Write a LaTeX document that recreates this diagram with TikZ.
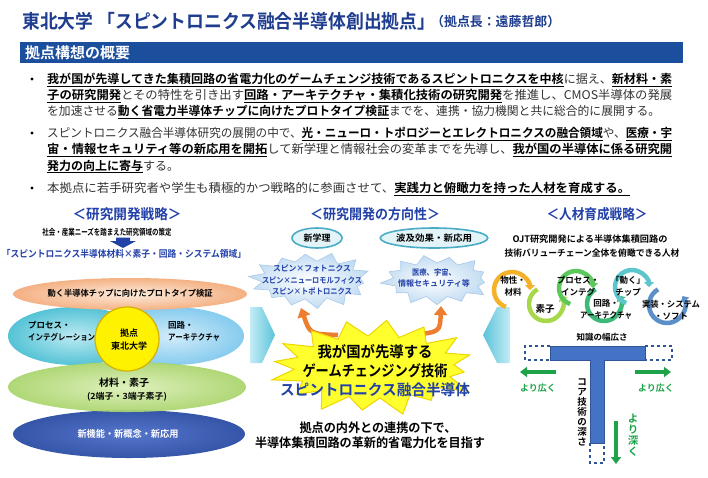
\documentclass[tikz,border=0pt]{standalone}
\usepackage{fontspec}
\setmainfont{Noto Sans CJK JP}[BoldFont={Noto Sans CJK JP Bold}]
\usepackage{graphicx}
\usetikzlibrary{arrows.meta,shapes.geometric}
\newcommand\fitw[2]{\resizebox{#1}{\height}{#2}}
\newcommand\ub[1]{{\color{black}\underline{\textbf{#1}}}}
\definecolor{ttl}{HTML}{1F3D8F}
\definecolor{barblue}{HTML}{1C4E9E}
\definecolor{hblue}{HTML}{2140A8}
\definecolor{txt}{HTML}{333333}
\definecolor{tblue}{HTML}{4472C4}
\definecolor{tdark}{HTML}{2F5597}
\definecolor{grn}{HTML}{1EA34A}
\definecolor{orng}{HTML}{ED7D31}
\definecolor{tealb}{HTML}{4BACC6}
\definecolor{tealf}{HTML}{E2F4F8}
\definecolor{peachi}{HTML}{FDEBDD}
\definecolor{peacho}{HTML}{F4B183}
\definecolor{cyani}{HTML}{BDEAF2}
\definecolor{cyano}{HTML}{55C3D6}
\definecolor{skyi}{HTML}{D2ECFA}
\definecolor{skyo}{HTML}{86CBEE}
\definecolor{grni}{HTML}{DDF0B8}
\definecolor{grno}{HTML}{A9D46B}
\definecolor{bli}{HTML}{5676CC}
\definecolor{blo}{HTML}{3455A8}
\definecolor{ylw}{HTML}{FFF200}
\definecolor{ylwd}{HTML}{D4B000}
\definecolor{starf}{HTML}{FFFF2E}
\definecolor{stard}{HTML}{F0D400}
\definecolor{cloudo}{HTML}{C2DCF2}
\definecolor{cloudd}{HTML}{A9C9E8}
\definecolor{chevi}{HTML}{C4ECF5}
\definecolor{chevo}{HTML}{5BC3DA}
\definecolor{rA}{HTML}{F5B12A}
\definecolor{rB}{HTML}{A6D84A}
\definecolor{rC}{HTML}{5CC85C}
\definecolor{rD}{HTML}{3CB878}
\definecolor{rE}{HTML}{5CC6CC}
\definecolor{rF}{HTML}{5B8FC8}
\newcommand\burstpath[8]{plot[variable=\k, samples at={0,...,#7}] ({#1+ifthenelse(mod(\k,2)==0,#3*(0.84+0.16*abs(sin(\k*#8))),#5)*cos(\k*360/(#7+1)+7)}, {#2+ifthenelse(mod(\k,2)==0,#4*(0.84+0.16*abs(sin(\k*#8))),#6)*sin(\k*360/(#7+1)+7)}) -- cycle}
\tikzset{
  bl/.style={anchor=base west, font=\fontsize{12}{12}\selectfont, text=txt},
  hd/.style={font=\fontsize{14}{14}\selectfont\bfseries, text=hblue},
  sm/.style={font=\fontsize{#1}{#1}\selectfont\bfseries, text=black},
  ml/.style={align=center, font=\fontsize{8.5}{12}\selectfont\bfseries, text=black},
  ringarc/.style={line width=4.5pt, draw=#1, -{Triangle[length=5pt,width=10pt]}},
  oarrow/.style={line width=4.5pt, draw=orng, -{Triangle[length=9pt,width=13pt]}},
  garrow/.style={line width=3.5pt, draw=grn, -{Triangle[length=7pt,width=10pt]}},
  tdash/.style={dashed, draw=tdark, line width=1.2pt},
  oval/.style={ellipse, draw=tealb, line width=1.6pt, fill=tealf, font=\fontsize{9}{9}\selectfont\bfseries, text=black},
}
\begin{document}
\begin{tikzpicture}[x=1pt,y=-1pt, every node/.style={inner sep=0pt}]
\useasboundingbox (0,0) rectangle (708,477);
\fill[white] (0,0) rectangle (708,477);

% ---------- title ----------
\node[anchor=west, text=ttl, font=\fontsize{19}{19}\selectfont\bfseries] (title) at (22,21) {\fitw{413pt}{東北大学\ 「スピントロニクス融合半導体創出拠点」}};
\node[anchor=west, text=ttl, font=\fontsize{13}{13}\selectfont\bfseries] (chief) at (431,22) {\fitw{129pt}{（拠点長：遠藤哲郎）}};
\fill[barblue] (20,42) rectangle (683,63);
\node[anchor=west, text=white, font=\fontsize{15}{15}\selectfont\bfseries] (bartxt) at (25,52.5) {拠点構想の概要};

% ---------- bullets ----------
\fill[black] (32,79) circle (1.7) (32,133) circle (1.7) (32,188) circle (1.7);
\node[bl] (l1) at (47,83.5) {\fitw{625pt}{\ub{我が国が先導してきた集積回路の省電力化のゲームチェンジ技術であるスピントロニクスを中核}に据え、\ub{新材料・素}}};
\node[bl] (l2) at (47,99.5) {\fitw{625pt}{\ub{子の研究開発}とその特性を引き出す\ub{回路・アーキテクチャ・集積化技術の研究開発}を推進し、CMOS半導体の発展}};
\node[bl] (l3) at (47,115.5) {\fitw{613pt}{を加速させる\ub{動く省電力半導体チップに向けたプロトタイプ検証}までを、連携・協力機関と共に総合的に展開する。}};
\node[bl] (l4) at (47,137.5) {\fitw{625pt}{スピントロニクス融合半導体研究の展開の中で、\ub{光・ニューロ・トポロジーとエレクトロニクスの融合領域}や、\ub{医療・宇}}};
\node[bl] (l5) at (47,153.5) {\fitw{625pt}{\ub{宙・情報セキュリティ等の新応用を開拓}して新学理と情報社会の変革までを先導し、\ub{我が国の半導体に係る研究開}}};
\node[bl] (l6) at (47,170) {\ub{発力の向上に寄与}する。};
\node[bl] (l7) at (47,192.5) {\fitw{583pt}{本拠点に若手研究者や学生も積極的かつ戦略的に参画させて、\ub{実践力と俯瞰力を持った人材を育成する。}}};

% ---------- left column ----------
\node[hd] (lh) at (127,214) {\fitw{109pt}{＜研究開発戦略＞}};
\node[sm=8.5] (needs) at (107,232) {\fitw{129pt}{社会・産業ニーズを踏まえた研究領域の策定}};
\fill[hblue] (116,237.5) -- (130,237.5) -- (130,241) -- (136,241) -- (123,248) -- (110,241) -- (116,241) -- cycle;
\node[sm=9.5, text=hblue] (domain) at (124,254) {\fitw{244pt}{「スピントロニクス半導体材料×素子・回路・システム領域」}};

\shade[inner color=cyani, outer color=cyano] (75,336) ellipse [x radius=67, y radius=29];
\shade[inner color=skyi, outer color=skyo] (172,336) ellipse [x radius=72, y radius=29];
\shade[inner color=peachi, outer color=peacho] (130,294) ellipse [x radius=117, y radius=16];
\shade[inner color=bli, outer color=blo] (129,434) ellipse [x radius=116, y radius=24];
\shade[inner color=grni, outer color=grno, opacity=0.92] (127,387) ellipse [x radius=119, y radius=25];
\filldraw[fill=ylw, draw=ylwd, line width=1.2pt] (127,339) circle (32);

\node[sm=8.5] (proto) at (130,293) {\fitw{165pt}{動く半導体チップに向けたプロトタイプ検証}};
\node[ml, align=left, anchor=west, font=\fontsize{8.5}{12}\selectfont\bfseries] (proc) at (28,331) {プロセス・\\\fitw{67pt}{インテグレーション}};
\node[ml, align=left, anchor=west] (circ) at (168,331) {回路・\\\fitw{52pt}{アーキテクチャ}};
\node[ml, font=\fontsize{9}{13}\selectfont\bfseries] (hub) at (129,340) {拠点\\東北大学};
\node[sm=10] (mat) at (124,383) {材料・素子};
\node[sm=8.5] (term) at (127,397) {\fitw{80pt}{(2端子・3端子素子)}};
\node[sm=9.5, text=white] (newf) at (128,434) {\fitw{101pt}{新機能・新概念・新応用}};

% ---------- middle column ----------
\node[hd] (mh) at (375,214) {\fitw{130pt}{＜研究開発の方向性＞}};
\node[oval, minimum width=50pt, minimum height=20pt] (sg) at (317,238) {新学理};
\node[oval, minimum width=88pt, minimum height=20pt] (hq) at (434,238) {\fitw{76pt}{波及効果・新応用}};

\shade[inner color=white, outer color=cloudo, draw=cloudd, line width=0.6pt] \burstpath{311}{280}{63}{29}{49}{19}{27}{71};
\shade[inner color=white, outer color=cloudo, draw=cloudd, line width=0.6pt] \burstpath{437}{280}{57}{26}{44}{17}{25}{53};
\node[align=center, font=\fontsize{8}{11.5}\selectfont\bfseries, text=hblue] (cl) at (312,280) {\fitw{78pt}{スピン×フォトニクス}\\\fitw{100pt}{スピン×ニューロモルフィクス}\\\fitw{80pt}{スピン×トポトロニクス}};
\node[align=center, font=\fontsize{8}{11}\selectfont\bfseries, text=hblue] (cr) at (434,278) {\fitw{44pt}{医療、宇宙、}\\\fitw{72pt}{情報セキュリティ等}};

\coordinate (oa1) at (338,335);
\coordinate (oa2) at (301,308);
\coordinate (ob1) at (412,335);
\coordinate (ob2) at (441,306);
\draw[oarrow] (oa1) .. controls (310,334) .. (oa2);
\draw[oarrow] (ob1) .. controls (440,332) .. (ob2);

\filldraw[fill=starf, draw=stard, line width=1pt] \burstpath{374}{367}{108}{49}{80}{31}{31}{137};
\node[sm=15] (s1) at (375,352) {\fitw{115pt}{我が国が先導する}};
\node[sm=15] (s2) at (375,371) {\fitw{145pt}{ゲームチェンジング技術}};
\node[sm=15, text=hblue] (s3) at (375,390) {\fitw{190pt}{スピントロニクス融合半導体}};
\node[sm=12.5] (g1) at (378,428) {\fitw{157pt}{拠点の内外との連携の下で、}};
\node[sm=12.5] (g2) at (370,443) {\fitw{230pt}{半導体集積回路の革新的省電力化を目指す}};

% chevrons
\shade[left color=chevi, right color=chevo] (250,307) -- (262,307) -- (275,335) -- (262,363) -- (250,363) -- cycle;
\shade[right color=chevi, left color=chevo] (510,307) -- (497,307) -- (483,335) -- (497,363) -- (510,363) -- cycle;

% ---------- right column ----------
\node[hd] (rh) at (597,214) {\fitw{101pt}{＜人材育成戦略＞}};
\node[sm=9] (ojt1) at (590,239) {\fitw{155pt}{OJT研究開発による半導体集積回路の}};
\node[sm=9] (ojt2) at (592,253) {\fitw{175pt}{技術バリューチェーン全体を俯瞰できる人材}};

\draw[ringarc=rA] ([shift={(-250:18)}]512,290) arc[start angle=-250, end angle=0, radius=18];
\draw[ringarc=rB] ([shift={(-120:17)}]546,304) arc[start angle=-120, end angle=-390, radius=17];
\draw[ringarc=rC] ([shift={(-250:17)}]576,288) arc[start angle=-250, end angle=0, radius=17];
\draw[ringarc=rD] ([shift={(-120:17)}]604,304) arc[start angle=-120, end angle=-390, radius=17];
\draw[ringarc=rE] ([shift={(-250:17)}]632,287) arc[start angle=-250, end angle=0, radius=17];
\draw[ringarc=rF] ([shift={(-120:18)}]667,305) arc[start angle=-120, end angle=-390, radius=18];

\node[ml] (r1t) at (513,286) {物性・\\材料};
\node[sm=9.5] (r2t) at (545,309) {素子};
\node[ml] (r3t) at (578,286) {プロセス・\\インテグ};
\node[ml] (r4t) at (606,309) {回路・\\\fitw{52pt}{アーキテクチャ}};
\node[ml] (r5t) at (628,286) {「動く」\\チップ};
\node[ml] (r6t) at (671,310) {\fitw{58pt}{実装・システム}\\・ソフト};

% T shape
\node[sm=8.5] (width) at (602,337) {知識の幅広さ};
\filldraw[fill=tblue, draw=tdark, line width=0.6pt] (550,346) -- (645,346) -- (645,360) -- (604,360) -- (604,443) -- (590,443) -- (590,360) -- (550,360) -- cycle;
\draw[tdash] (550,346) -- (525,346) -- (525,360) -- (550,360);
\draw[tdash] (645,346) -- (672,346) -- (672,360) -- (645,360);
\draw[tdash] (590,443) -- (590,463) -- (604,463) -- (604,443);
\coordinate (ga1) at (556,372);
\coordinate (ga2) at (520,372);
\coordinate (gb1) at (635,372);
\coordinate (gb2) at (671,372);
\coordinate (gc1) at (616,421);
\coordinate (gc2) at (616,464);
\draw[garrow] (ga1) -- (ga2);
\draw[garrow] (gb1) -- (gb2);
\draw[garrow] (gc1) -- (gc2);
\node[sm=9, text=grn] (wl) at (538,388) {より広く};
\node[sm=9, text=grn] (wr) at (656,388) {より広く};
\node[align=center, font=\fontsize{9.5}{10}\selectfont\bfseries, text=black] (core) at (582,412) {コ\\ア\\技\\術\\の\\深\\さ};
\node[align=center, font=\fontsize{10.5}{11}\selectfont\bfseries, text=grn] (deep) at (633,435) {よ\\り\\深\\く};
\end{tikzpicture}
\end{document}
